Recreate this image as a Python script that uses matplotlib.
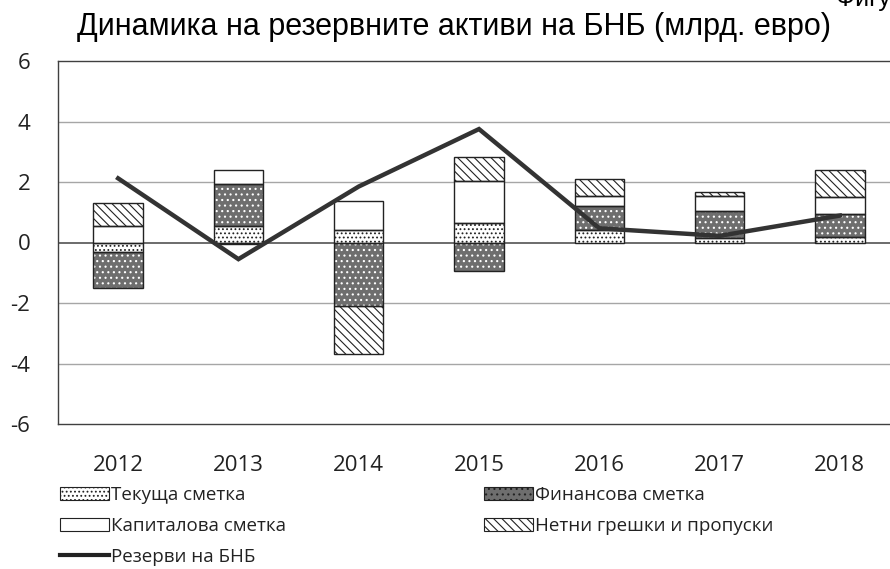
import matplotlib
matplotlib.use("Agg")
import matplotlib.pyplot as plt
from matplotlib.patches import Patch
from matplotlib.lines import Line2D
import numpy as np

years = ["2012", "2013", "2014", "2015", "2016", "2017", "2018"]
current = [-0.33, 0.55, 0.40, 0.64, 0.42, 0.16, 0.17]
financial = [-1.19, 1.40, -2.09, -0.93, 0.79, 0.89, 0.76]
capital = [0.56, 0.46, 0.97, 1.40, 0.34, 0.49, 0.59]
errors = [0.76, -0.05, -1.60, 0.77, 0.54, 0.14, 0.88]
reserves = [2.12, -0.55, 1.85, 3.75, 0.47, 0.22, 0.89]

labels = ["Текуща сметка", "Финансова сметка", "Капиталова сметка",
          "Нетни грешки и пропуски", "Резерви на БНБ"]

plt.rcParams['hatch.linewidth'] = 0.8
TICKFONT = "Open Sans"
FIN_COLOR = "#6e6e6e"

fig = plt.figure(figsize=(8.9, 5.69), dpi=100)
ax = fig.add_axes([58/890, 1-424/569, (900-58)/890, (424-61)/569])

x = np.arange(len(years))
w = 0.41

series = [current, financial, capital, errors]
styles = [
    dict(facecolor="white", hatch="....", hcolor="#222222"),
    dict(facecolor=FIN_COLOR, hatch="...", hcolor="white"),
    dict(facecolor="white", hatch=None, hcolor="white"),
    dict(facecolor="white", hatch="\\\\\\\\", hcolor="#222222"),
]

pos_base = np.zeros(len(years))
neg_base = np.zeros(len(years))
for vals, st in zip(series, styles):
    vals = np.array(vals)
    bottoms = np.where(vals >= 0, pos_base, neg_base)
    ax.bar(x, vals, w, bottom=bottoms, color=st["facecolor"],
           hatch=st["hatch"], edgecolor=st["hcolor"], linewidth=0, zorder=2)
    ax.bar(x, vals, w, bottom=bottoms, fill=False, edgecolor="#222222",
           linewidth=1.0, zorder=3)
    pos_base = pos_base + np.where(vals >= 0, vals, 0)
    neg_base = neg_base + np.where(vals < 0, vals, 0)

ax.plot(x, reserves, color="#333333", linewidth=3.2, zorder=4,
        solid_joinstyle="miter")

ax.set_xlim(-0.5, 6.5)
ax.set_ylim(-6, 6)
ax.set_yticks([-6, -4, -2, 0, 2, 4, 6])
ax.set_yticklabels(["-6", "-4", "-2", "0", "2", "4", "6"])
ax.set_xticks(x)
ax.set_xticklabels(years)
for yv in [-4, -2, 2, 4]:
    ax.axhline(yv, color="#a6a6a6", linewidth=1.0, zorder=1)
ax.axhline(0, color="#606060", linewidth=1.3, zorder=1)

ax.spines["right"].set_visible(False)
for s in ["left", "top", "bottom"]:
    ax.spines[s].set_color("#404040")
    ax.spines[s].set_linewidth(1.0)

ax.tick_params(axis="both", length=0, labelsize=16, colors="#222222")
ax.tick_params(axis="x", pad=22)
ax.tick_params(axis="y", pad=20)
for t in ax.get_xticklabels() + ax.get_yticklabels():
    t.set_fontfamily(TICKFONT)

fig.text(454/890, 1-27/569, "Динамика на резервните активи на БНБ (млрд. евро)",
         ha="center", va="center", fontsize=22, family="Liberation Sans")
fig.text(836/890, 1-6/569, "Фигура 1", ha="left", va="baseline",
         fontsize=18, family="Liberation Sans")

handles = [
    Patch(facecolor="white", hatch="....", edgecolor="#222222", linewidth=0.8),
    Patch(facecolor="white", edgecolor="#222222", linewidth=0.8),
    Line2D([0], [0], color="#222222", linewidth=3),
    Patch(facecolor=FIN_COLOR, hatch="...", edgecolor="#222222", linewidth=0.8),
    Patch(facecolor="white", hatch="\\\\\\\\", edgecolor="#222222", linewidth=0.8),
]
hl = [labels[0], labels[2], labels[4], labels[1], labels[3]]
leg = fig.legend(handles, hl, ncol=2, loc="upper left",
                 bbox_to_anchor=(60/890, 1-486/569), frameon=False,
                 prop={"family": TICKFONT, "size": 13.5},
                 handlelength=2.6, handleheight=0.7, handletextpad=0.1,
                 columnspacing=10.6, labelspacing=0.68, borderaxespad=0,
                 borderpad=0)
for t in leg.get_texts():
    t.set_color("#222222")

fig.savefig("out.png", dpi=100)
